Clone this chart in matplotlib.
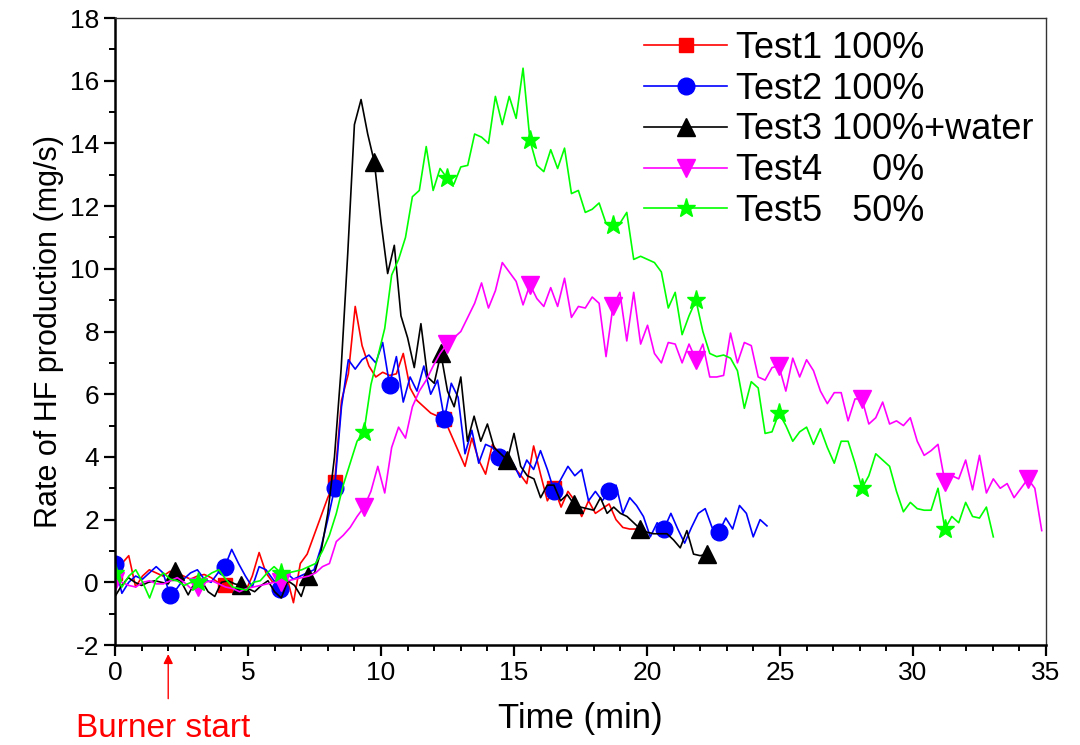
import numpy as np
import matplotlib
matplotlib.use("Agg")
import matplotlib.pyplot as plt
from matplotlib.ticker import MultipleLocator

plt.rcParams['font.family'] = ['Liberation Sans', 'DejaVu Sans']
plt.rcParams['axes.unicode_minus'] = False

# ---------------- data (mg/s) ----------------
dt12 = 0.258   # Test1 / Test2 sampling step (min)
dt3 = 0.25     # Test3 sampling step (min)
dt45 = 0.26    # Test4 / Test5 sampling step (min)

test1 = [0.3, 0.6, 0.85, -0.15, 0.2, 0.4, 0.3, 0.2, 0.35, 0.3,
         0.2, 0.1, 0.2, 0.25, 0.15, 0.0, -0.1, -0.25, -0.2, -0.3,
         0.2, 0.95, 0.3, 0.0, 0.15, 0.2, -0.65, 0.6, 0.9, 1.5,
         2.1, 2.7, 3.2, 5.8, 6.65, 8.8, 7.55, 6.9, 6.55, 6.7,
         6.6, 6.65, 7.3, 6.2, 5.8, 5.6, 5.4, 5.3, 5.2, 4.7,
         4.2, 3.7, 4.6, 3.9, 3.45, 4.4, 4.1, 4.0, 3.7, 3.45,
         3.15, 4.35, 3.45, 2.6, 3.0, 2.4, 2.9, 2.6, 2.1, 2.6,
         2.2, 2.35, 2.5, 2.0, 1.75, 1.7, 1.7, 1.45]

test2 = [0.6, -0.35, 0.0, 0.2, 0.1, 0.3, 0.5, 0.3, -0.4, -0.2,
         0.1, 0.3, 0.4, 0.1, 0.0, 0.3, 0.5, 1.05, 0.6, 0.2,
         -0.15, 0.5, 0.4, 0.1, -0.2, 0.3, 0.1, 0.2, 0.3, 0.4,
         1.1, 2.0, 3.0, 5.6, 7.1, 6.8, 7.1, 7.25, 7.0, 7.65,
         6.3, 7.2, 5.75, 6.55, 6.1, 6.9, 6.0, 6.45, 5.2, 6.35,
         5.9, 4.1, 4.85, 3.8, 4.4, 4.3, 4.0, 4.0, 3.8, 3.35,
         3.9, 3.6, 4.2, 3.6, 2.9, 3.3, 3.7, 3.4, 3.6, 2.6,
         2.9, 2.6, 2.9, 3.1, 2.2, 2.7, 2.45, 2.1, 1.45, 1.9,
         1.7, 2.2, 1.7, 1.25, 1.75, 2.2, 2.35, 1.75, 1.6, 2.05,
         1.7, 2.45, 2.2, 1.45, 2.0, 1.8]

test3 = [-0.45, -0.1, 0.15, 0.0, -0.1, 0.0, 0.05, 0.0, -0.05, 0.35,
         0.0, -0.4, 0.0, 0.05, -0.3, -0.45, 0.0, 0.05, -0.05, -0.1,
         -0.2, -0.3, -0.1, 0.05, -0.3, -0.5, 0.05, -0.1, -0.45, 0.2,
         0.3, 1.0, 2.2, 4.0, 6.8, 10.5, 14.6, 15.4, 14.3, 13.4,
         11.5, 9.85, 10.75, 8.5, 7.8, 6.85, 8.25, 6.55, 6.35, 7.3,
         6.1, 5.6, 6.55, 4.5, 5.3, 4.5, 5.05, 4.3, 4.1, 3.9,
         4.75, 3.7, 3.4, 3.3, 2.7, 3.1, 3.1, 2.6, 2.8, 2.5,
         2.4, 2.35, 2.3, 2.7, 2.2, 2.4, 2.2, 2.1, 1.9, 1.7,
         1.6, 1.55, 1.55, 1.55, 1.35, 1.1, 1.65, 0.9, 0.85, 0.9]

test4 = [0.05, 0.0, -0.1, -0.15, 0.0, 0.05, -0.05, -0.05, 0.05, 0.15,
         0.0, -0.2, -0.15, 0.0, 0.05, -0.05, -0.15, -0.2, -0.3, -0.2,
         -0.15, -0.1, -0.05, 0.0, 0.0, 0.05, 0.1, 0.15, 0.2, 0.3,
         0.5, 0.6, 1.3, 1.5, 1.75, 2.1, 2.4, 2.9, 3.7, 2.85,
         4.3, 4.95, 4.6, 5.6, 6.1, 6.45, 6.9, 7.3, 7.6, 7.8,
         8.0, 8.45, 8.9, 9.55, 8.75, 9.3, 10.2, 9.9, 9.6, 8.85,
         9.5, 9.05, 8.8, 9.4, 8.8, 9.7, 8.45, 8.8, 8.75, 9.1,
         8.9, 7.2, 8.8, 9.25, 7.7, 9.25, 7.6, 8.2, 7.3, 7.0,
         7.65, 7.6, 7.0, 7.6, 7.1, 7.6, 6.55, 6.55, 6.6, 7.95,
         7.0, 7.65, 7.55, 6.55, 6.45, 6.85, 6.9, 6.1, 7.15, 6.55,
         7.1, 6.75, 6.1, 5.7, 6.05, 6.05, 5.15, 5.85, 5.85, 5.05,
         5.25, 5.75, 5.05, 5.15, 5.0, 5.25, 4.5, 4.05, 4.2, 4.4,
         3.2, 3.4, 3.3, 3.9, 2.95, 4.05, 2.85, 3.3, 3.0, 3.15,
         2.7, 3.0, 3.3, 3.0, 1.65]

test5 = [0.3, -0.15, 0.2, 0.4, 0.0, -0.5, 0.1, 0.3, 0.1, 0.05,
         -0.1, 0.0, 0.0, 0.15, 0.3, 0.4, 0.1, -0.15, -0.2, -0.25,
         0.0, 0.05, 0.3, 0.5, 0.3, 0.3, 0.35, 0.4, 0.5, 0.6,
         1.0, 1.5, 2.2, 3.1, 3.8, 4.5, 4.8, 6.3, 7.2, 8.1,
         9.8, 10.3, 11.0, 12.3, 12.5, 13.9, 12.5, 13.2, 12.9, 12.7,
         13.25, 13.3, 14.3, 14.2, 14.0, 15.5, 14.6, 15.5, 14.8, 16.4,
         14.1, 13.3, 13.1, 13.8, 13.2, 13.85, 12.4, 12.5, 11.8, 11.9,
         12.1, 11.45, 11.4, 11.45, 11.8, 10.3, 10.4, 10.3, 10.2, 9.9,
         8.75, 9.25, 7.9, 8.5, 9.0, 8.0, 7.3, 7.2, 7.25, 7.15,
         6.75, 5.55, 6.4, 6.2, 4.75, 4.8, 5.4, 5.0, 4.5, 4.8,
         4.95, 4.4, 4.9, 4.3, 3.8, 4.5, 4.5, 3.8, 3.0, 3.4,
         4.1, 3.9, 3.7, 2.9, 2.25, 2.55, 2.35, 2.3, 2.3, 3.0,
         1.7, 2.1, 1.9, 2.55, 2.1, 2.05, 2.4, 1.45]

labels = ["Test1 100%", "Test2 100%", "Test3 100%+water",
          "Test4     0%", "Test5   50%"]

t1 = np.arange(len(test1)) * dt12
t2 = np.arange(len(test2)) * dt12
t3 = np.arange(len(test3)) * dt3
t4 = np.arange(len(test4)) * dt45
t5 = np.arange(len(test5)) * dt45

# ---------------- figure ----------------
fig = plt.figure(figsize=(10.8, 7.45), dpi=100)
ax = fig.add_axes([0.1065, 0.1342, 0.862, 0.8416])

lw = 1.2
ax.plot(t1, test1, color='#FF0000', lw=lw, marker='s', ms=10, markevery=16,
        label=labels[0])
ax.plot(t2, test2, color='#0000FF', lw=lw, marker='o', ms=12, markevery=8,
        label=labels[1])
ax.plot(t3, test3, color='#000000', lw=lw, marker='^', ms=13, markevery=(9, 10),
        label=labels[2])
ax.plot(t4, test4, color='#FF00FF', lw=lw, marker='v', ms=13, markevery=12,
        label=labels[3])
ax.plot(t5, test5, color='#00FF00', lw=lw, marker='*', ms=14, markevery=12,
        label=labels[4])

ax.set_xlim(0, 35)
ax.set_ylim(-2, 18)
ax.xaxis.set_major_locator(MultipleLocator(5))
ax.xaxis.set_minor_locator(MultipleLocator(1))
ax.yaxis.set_major_locator(MultipleLocator(2))
ax.yaxis.set_minor_locator(MultipleLocator(1))
ax.tick_params(which='major', direction='out', length=8, width=1.6,
               labelsize=19, top=False, right=False)
ax.tick_params(which='minor', direction='out', length=4, width=1.4,
               top=False, right=False)
for s in ['left', 'bottom']:
    ax.spines[s].set_linewidth(1.8)
for s in ['top', 'right']:
    ax.spines[s].set_linewidth(1.0)
    ax.spines[s].set_color('#333333')

ax.set_xlabel('Time (min)', fontsize=25, labelpad=12)
ax.set_ylabel('Rate of HF production (mg/s)', fontsize=22, labelpad=4)

leg = ax.legend(loc='upper left', bbox_to_anchor=(0.545, 1.014), frameon=False,
                fontsize=26, handlelength=2.3, handletextpad=0.25,
                labelspacing=0.16, borderaxespad=0.2)

ax.annotate('', xy=(2.0, -2.2), xytext=(2.0, -3.8), xycoords='data',
            arrowprops=dict(arrowstyle='-|>', color='red', lw=1.0,
                            mutation_scale=14), annotation_clip=False)
ax.text(1.8, -4.65, 'Burner start', color='red', fontsize=24,
        ha='center', va='center', clip_on=False)

fig.savefig('out.png', dpi=100)
